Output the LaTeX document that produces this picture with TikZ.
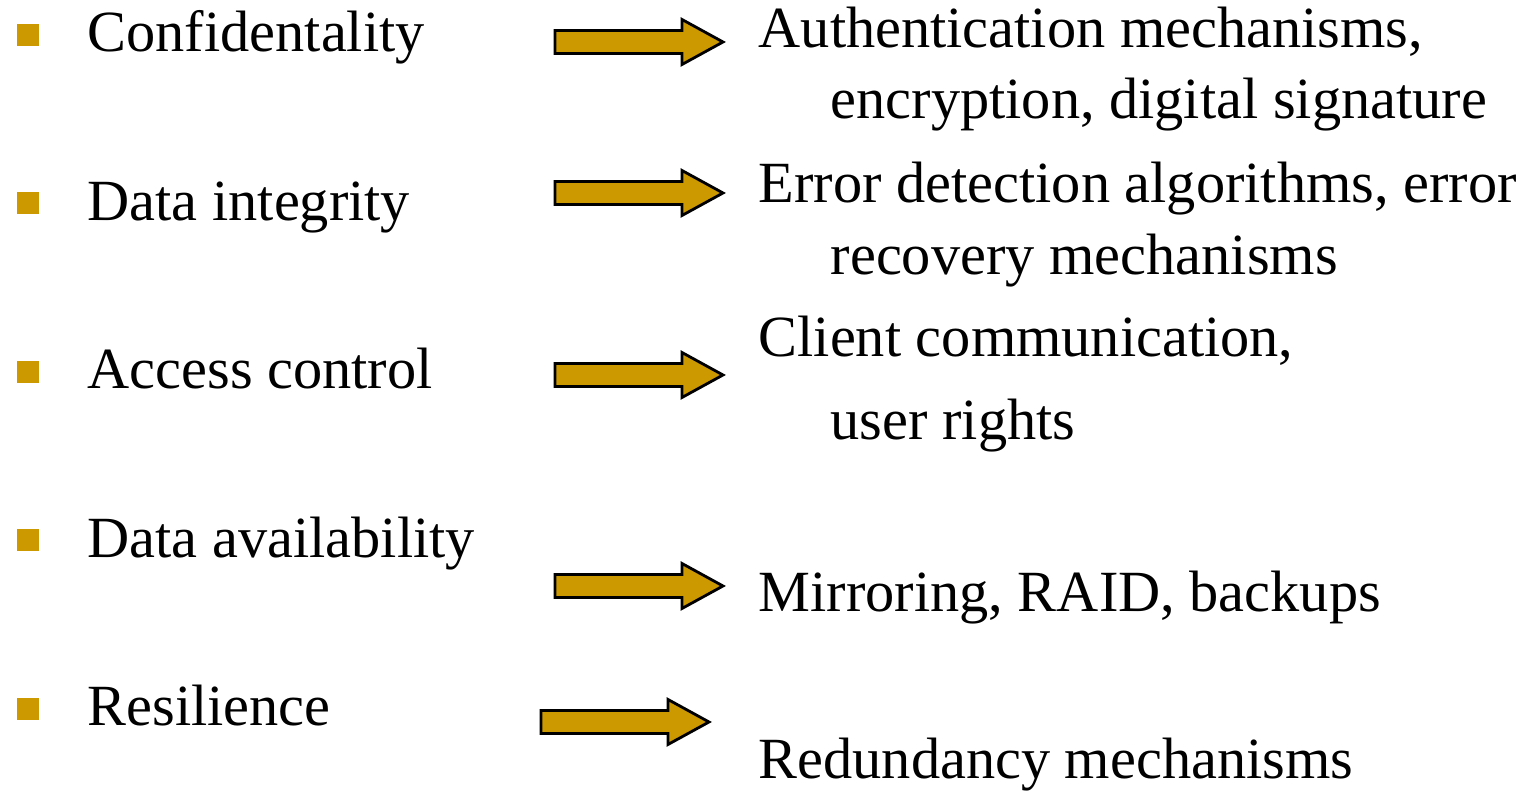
\documentclass[tikz,border=0pt]{standalone}
\usepackage{fontspec}
\setmainfont{Liberation Serif}
\usepackage{xcolor}
\usepackage{tikz}

\definecolor{gold}{HTML}{CC9900}

\tikzset{
	bullet/.style={fill=gold, minimum size=0.22cm, inner sep=0pt},
	topic/.style={anchor=base west, inner sep=0pt, font=\fontsize{16.6}{20}\selectfont},
	remedy/.style={anchor=base west, inner sep=0pt, font=\fontsize{16.6}{20}\selectfont},
	fatarrow/.style={draw=black, fill=gold, line width=0.8pt, line join=miter}
}

% block arrow starting at a coordinate (left end, middle of the shaft)
\newcommand{\bigarrow}[1]{%
	\draw[fatarrow] (#1) ++(0,0.115) -- ++(1.27,0) -- ++(0,0.11) -- ++(0.41,-0.225)
	-- ++(-0.41,-0.225) -- ++(0,0.11) -- ++(-1.27,0) -- cycle;}

\begin{document}
\begin{tikzpicture}
		\useasboundingbox (0,0) rectangle (15.26,-7.92);
		
		% Bullets
		\node[bullet] (b1) at (0.28,-0.35) {};
		\node[bullet] (b2) at (0.28,-2.035) {};
		\node[bullet] (b3) at (0.28,-3.72) {};
		\node[bullet] (b4) at (0.28,-5.405) {};
		\node[bullet] (b5) at (0.28,-7.09) {};
		
		% Topics
		\node[topic] (conf) at (0.87,-0.52) {Confidentality};
		\node[topic] (integ) at (0.87,-2.205) {Data integrity};
		\node[topic] (access) at (0.87,-3.89) {Access control};
		\node[topic] (avail) at (0.87,-5.575) {Data availability};
		\node[topic] (resil) at (0.87,-7.26) {Resilience};
		
		% Remedies
		\node[remedy] (auth) at (7.58,-0.48) {Authentication mechanisms,};
		\node[remedy] (encr) at (8.30,-1.19) {encryption, digital signature};
		\node[remedy] (err) at (7.58,-2.03) {Error detection algorithms, error};
		\node[remedy] (recov) at (8.30,-2.75) {recovery mechanisms};
		\node[remedy] (client) at (7.58,-3.57) {Client communication,};
		\node[remedy] (rights) at (8.30,-4.40) {user rights};
		\node[remedy] (mirror) at (7.58,-6.12) {Mirroring, RAID, backups};
		\node[remedy] (redund) at (7.58,-7.79) {Redundancy mechanisms};
		
		% Arrows
		\coordinate (a1) at (5.55,-0.42);
		\coordinate (a2) at (5.55,-1.93);
		\coordinate (a3) at (5.55,-3.75);
		\coordinate (a4) at (5.55,-5.86);
		\coordinate (a5) at (5.41,-7.22);
		\bigarrow{a1}
		\bigarrow{a2}
		\bigarrow{a3}
		\bigarrow{a4}
		\bigarrow{a5}
		
	\end{tikzpicture}
\end{document}
